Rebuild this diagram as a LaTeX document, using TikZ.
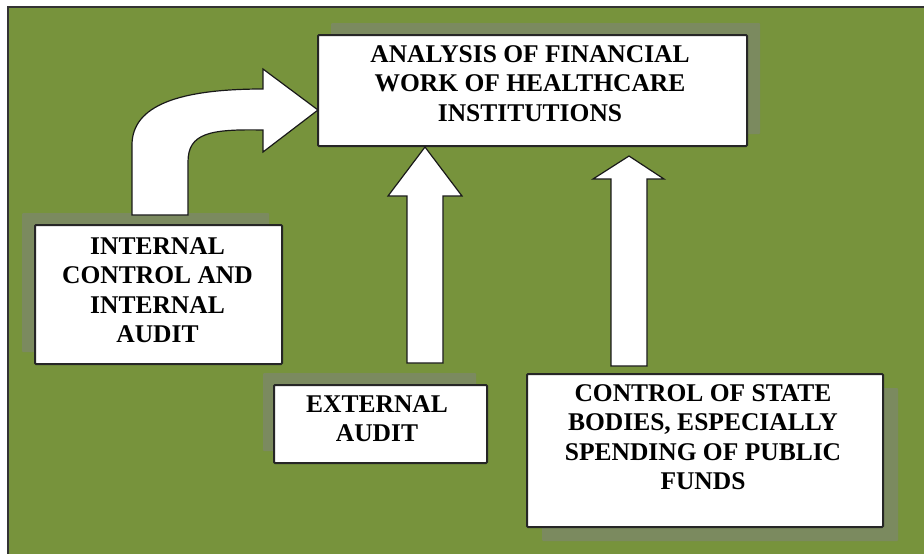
\documentclass[tikz,border=0pt]{standalone}
\usepackage{fontspec}
\setmainfont{Liberation Serif}[BoldFont={Liberation Serif Bold}]
\newfontfamily\tnrbold{Liberation Serif Bold}
\usetikzlibrary{calc,shadows}
\definecolor{bggreen}{RGB}{119,147,60}
\definecolor{shd}{RGB}{123,138,95}
\begin{document}
\begin{tikzpicture}[x=1pt,y=-1pt,
  boxstyle/.style={draw=black!85, line width=2pt, fill=white, rounded corners=1pt},
  txt/.style={anchor=north, inner sep=0pt, align=center, font=\tnrbold\fontsize{25.5}{29.5}\selectfont},
  blockarrow/.style={draw=black!90, line width=1.2pt, fill=white, line join=miter}]
\useasboundingbox (0,0) rectangle (924,554);
\clip (0,0) rectangle (924,554);
\fill[white] (0,0) rectangle (924,554);
\draw[fill=bggreen, line width=2.5pt, draw=black!80] (8,7) rectangle (940,570);

% boxes
\node[boxstyle, minimum width=429pt, minimum height=111pt,
  general shadow={fill=shd, shadow xshift=13pt, shadow yshift=12pt}] (top) at (532.5,90.5) {};
\node[boxstyle, minimum width=247pt, minimum height=139pt,
  general shadow={fill=shd, shadow xshift=-13pt, shadow yshift=12pt}] (intl) at (158.5,294.5) {};
\node[boxstyle, minimum width=213pt, minimum height=78pt,
  general shadow={fill=shd, shadow xshift=-11pt, shadow yshift=12pt}] (ext) at (380.5,424) {};
\node[boxstyle, minimum width=356pt, minimum height=153pt,
  general shadow={fill=shd, shadow xshift=15pt, shadow yshift=-14pt}] (state) at (705,450.5) {};

% texts
\node[txt] (toptxt) at (530,45) {ANALYSIS OF FINANCIAL\\WORK OF HEALTHCARE\\INSTITUTIONS};
\node[txt] (intltxt) at (157.5,237) {INTERNAL\\CONTROL AND\\INTERNAL\\AUDIT};
\node[txt] (exttxt) at (377,395) {EXTERNAL\\AUDIT};
\node[txt] (statetxt) at (703,384) {CONTROL OF STATE\\BODIES, ESPECIALLY\\SPENDING OF PUBLIC\\FUNDS};

% curved block arrow
\draw[blockarrow] (132,215) -- (132,145)
  .. controls (132,105) and (180,89) .. (263,89)
  -- (263,69) -- (318,110) -- (263,152) -- (263,130)
  .. controls (210,129) and (188,133) .. (188,162)
  -- (188,215) -- cycle;

% straight up arrows
\draw[blockarrow] (407,363) -- (407,196) -- (388,196) -- (425,147) -- (462,196) -- (443,196) -- (443,363) -- cycle;
\draw[blockarrow] (611,366) -- (611,179) -- (593,179) -- (629,156) -- (664,179) -- (647,179) -- (647,366) -- cycle;
\end{tikzpicture}
\end{document}
